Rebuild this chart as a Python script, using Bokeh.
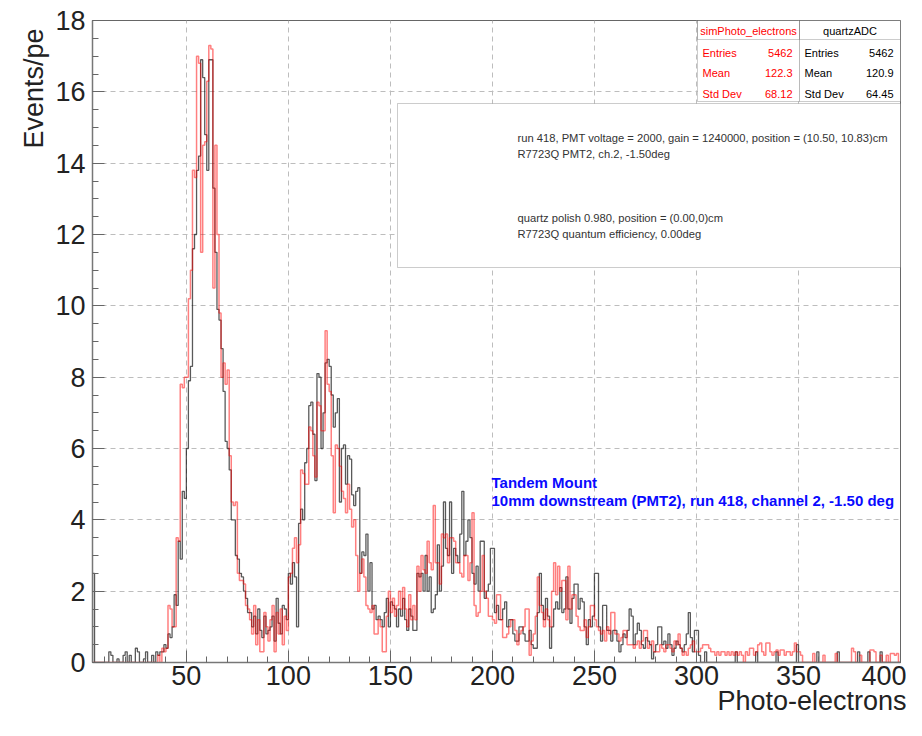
import numpy as np
from bokeh.plotting import figure
from bokeh.models import Range1d, FixedTicker, Label, BoxAnnotation, Title
from bokeh.embed import file_html
from bokeh.resources import INLINE

# ---------------- data (1 pe bins starting at 0) ----------------
bin_start = 0
bin_width = 1

quartz_adc = [
    0, 0, 0, 0, 2.5, 0, 0, 0, 0, 0,
    0, 0, 0.3, 0.2, 0, 0, 0.1, 0, 0, 0.2,
    0.3, 0, 0.2, 0, 0, 0.4, 0.3, 0, 0, 0.1,
    0.3, 0, 0, 0.2, 0, 0.3, 0.2, 0.3, 0.3, 0.5,
    0.4, 0.8, 0.7, 1.0, 1.9, 1.6, 3.4, 2.9, 4.8, 4.6,
    6.0, 7.9, 8.3, 11.6, 12.0, 13.8, 14.2, 16.9, 16.4, 14.8,
    13.8, 16.9, 16.9, 13.3, 11.5, 9.9, 9.6, 8.8, 7.6, 6.2,
    6.0, 5.4, 4.0, 4.0, 3.0, 2.9, 2.5, 2.4, 2.0, 1.8,
    1.4, 1.4, 1.0, 1.3, 0.8, 1.5, 0.9, 0.7, 1.3, 0.8,
    0.9, 1.0, 1.3, 0.6, 1.8, 1.1, 0.8, 1.6, 1.5, 1.2,
    2.5, 2.2, 2.8, 2.4, 1.0, 3.9, 4.3, 4.0, 5.6, 6.0,
    7.2, 7.3, 6.4, 5.1, 8.1, 8.0, 6.0, 7.0, 8.4, 8.5,
    8.3, 7.5, 6.6, 7.0, 7.4, 4.5, 6.0, 6.1, 5.0, 5.8,
    5.7, 4.7, 4.4, 4.8, 4.9, 2.5, 3.1, 3.0, 3.6, 2.0,
    2.8, 1.5, 1.6, 1.2, 1.3, 1.2, 1.0, 1.4, 1.8, 1.0,
    1.7, 1.6, 1.5, 1.0, 1.5, 1.3, 1.8, 1.2, 0.9, 1.5,
    1.3, 0.9, 0.9, 2.5, 2.4, 2.5, 2.0, 3.0, 2.0, 2.4,
    1.4, 1.5, 1.9, 3.3, 2.0, 2.7, 4.5, 3.2, 3.0, 4.5,
    2.5, 3.2, 3.0, 2.8, 3.6, 4.8, 3.0, 3.4, 4.0, 3.5,
    2.5, 2.2, 2.7, 2.0, 3.4, 3.4, 1.8, 2.0, 2.2, 3.2,
    3.2, 1.4, 1.6, 1.2, 1.2, 1.5, 1.7, 1.0, 1.2, 1.2,
    0.8, 0.6, 0.6, 1.0, 1.0, 0.8, 0.6, 0.6, 0.9, 0.5,
    0.4, 0.4, 1.4, 2.5, 1.6, 1.2, 1.8, 1.3, 0.4, 1.0,
    1.5, 1.7, 1.5, 2.1, 1.4, 1.5, 2.4, 1.5, 1.1, 1.8,
    2.2, 2.2, 1.5, 1.8, 1.7, 1.0, 0.5, 1.2, 1.0, 1.3,
    2.5, 2.5, 1.0, 0.6, 1.6, 1.6, 0.9, 0.9, 0.6, 0.9,
    0.9, 0.6, 0.3, 0.5, 0.8, 0.7, 0.9, 1.5, 1.3, 0.5,
    0.8, 1.1, 0.9, 0.5, 0.4, 0.7, 0.6, 0.5, 0.1, 0.3,
    0.5, 1.0, 1.0, 0.5, 0.6, 0.4, 0.8, 0.5, 0.2, 0.4,
    0.6, 0.5, 0.4, 0.3, 0.5, 0.8, 1.4, 0.7, 0.3, 0.9,
    0.9, 0.2, 0, 0, 0.3, 0, 0, 0, 0, 0,
    0, 0, 0, 0, 0, 0, 0, 0, 0, 0.3,
    0, 0, 0, 0, 0, 0, 0, 0, 0, 0.3,
    0, 0, 0, 0, 0, 0, 0, 0, 0, 0.3,
    0, 0, 0, 0, 0, 0, 0, 0, 0, 0.5,
    0, 0, 0, 0, 0, 0, 0, 0, 0, 0.3,
    0, 0, 0, 0, 0, 0, 0, 0, 0, 0.3,
    0, 0, 0, 0, 0, 0, 0, 0, 0, 0.3,
    0, 0, 0, 0, 0.3, 0, 0, 0, 0, 0,
    0.3, 0, 0, 0, 0, 0, 0, 0, 0, 0,
]

sim_photo_electrons = [
    0, 0, 0, 0, 0, 0, 0, 0, 0, 0,
    0, 0, 0, 0, 0, 0, 0, 0, 0, 0,
    0, 0, 0, 0, 0, 0, 0, 0, 0, 0,
    0, 0, 0, 0, 0, 0, 0.2, 0, 0.4, 0.3,
    0.4, 1.6, 1.5, 1.0, 1.0, 3.5, 3.4, 7.8, 7.7, 8.0,
    8.0, 10.2, 11.0, 13.8, 13.6, 17.0, 16.8, 11.5, 14.5, 14.6,
    16.3, 17.3, 17.2, 10.5, 14.5, 12.0, 9.8, 8.0, 8.4, 7.8,
    8.2, 5.8, 4.5, 4.4, 4.5, 2.5, 2.3, 2.3, 2.2, 1.6,
    1.5, 1.2, 0.8, 1.6, 0.5, 1.2, 0.3, 0.3, 1.4, 1.0,
    0.6, 1.2, 1.6, 0.3, 1.4, 0.8, 1.5, 0.5, 1.3, 0.9,
    2.4, 2.5, 3.2, 3.5, 2.8, 3.3, 5.4, 5.3, 5.0, 5.0,
    6.6, 6.5, 5.8, 5.2, 7.3, 7.2, 6.5, 6.5, 9.3, 7.8,
    7.6, 5.8, 4.2, 6.1, 6.0, 5.5, 4.8, 4.6, 4.2, 5.0,
    4.3, 3.8, 4.0, 3.0, 2.0, 2.5, 2.9, 2.4, 1.6, 1.5,
    1.4, 1.6, 0.8, 0.8, 1.2, 1.0, 0.3, 0.3, 1.3, 2.0,
    1.4, 1.8, 1.3, 1.6, 2.0, 1.5, 2.1, 1.5, 1.0, 1.9,
    1.2, 1.6, 1.2, 2.7, 2.0, 3.0, 2.6, 2.5, 3.4, 2.8,
    2.6, 4.4, 2.8, 2.8, 2.2, 3.6, 3.5, 3.6, 2.8, 3.5,
    3.5, 3.4, 2.8, 2.8, 2.5, 2.4, 3.0, 3.0, 2.3, 2.8,
    4.2, 1.6, 1.3, 1.4, 2.0, 3.0, 2.0, 1.8, 1.3, 1.3,
    1.2, 1.1, 1.9, 1.9, 1.2, 0.7, 0.7, 0.8, 1.0, 1.2,
    1.2, 0.9, 0.5, 0.8, 0.9, 1.0, 1.5, 1.5, 0.2, 0.6,
    0.8, 1.3, 2.4, 1.6, 1.4, 1.0, 1.5, 1.2, 1.0, 2.0,
    2.8, 1.9, 2.7, 2.0, 2.3, 2.3, 1.2, 2.7, 1.5, 1.9,
    1.9, 1.3, 1.0, 0.9, 0.9, 1.2, 0.7, 1.0, 1.6, 1.6,
    1.2, 1.0, 0.9, 0.8, 0.9, 0.6, 1.0, 0.8, 1.4, 1.4,
    0.8, 0.8, 0.6, 0.7, 0.9, 0.9, 0.5, 0.5, 0.5, 0.4,
    0.5, 0.6, 0.4, 0.6, 0.9, 0.9, 0.4, 0.5, 0.6, 0.3,
    0.3, 0.3, 0.5, 0.4, 0.3, 0.5, 0.5, 0.4, 0.3, 0.6,
    0.5, 0.8, 0.4, 0.2, 0.3, 0.2, 0.4, 0.5, 0.6, 0.3,
    0.3, 0.3, 0.4, 0.5, 0.5, 0.5, 0.4, 0.3, 0.3, 0.2,
    0.3, 0.2, 0.3, 0.3, 0.2, 0.3, 0.2, 0.3, 0.2, 0.3,
    0.2, 0.3, 0.2, 0, 0.3, 0.2, 0.4, 0.4, 0.2, 0.3,
    0.5, 0.55, 0.3, 0.2, 0.55, 0.55, 0.3, 0.2, 0.3, 0.35,
    0.2, 0.35, 0.35, 0.2, 0.3, 0.3, 0.2, 0.3, 0.55, 0.3,
    0.3, 0.2, 0, 0, 0, 0, 0, 0.25, 0, 0,
    0, 0, 0.2, 0, 0, 0, 0, 0, 0.25, 0,
    0, 0, 0, 0, 0, 0, 0.4, 0.3, 0, 0,
    0.2, 0, 0, 0, 0, 0.35, 0.35, 0.3, 0, 0,
    0.2, 0, 0, 0.2, 0, 0.25, 0.25, 0.2, 0.25, 0,
]

x_major_ticks = [50, 100, 150, 200, 250, 300, 350, 400]
x_minor_ticks = list(range(10, 401, 10))
y_major_ticks = [0, 2, 4, 6, 8, 10, 12, 14, 16, 18]
y_minor_ticks = [v * 0.5 for v in range(0, 37)]

stats_names = ["simPhoto_electrons", "quartzADC"]
stats_labels = ["Entries", "Mean", "Std Dev"]
stats_values = [["5462", "122.3", "68.12"], ["5462", "120.9", "64.45"]]
stats_colors = ["#ff0000", "#000000"]

legend_lines = [
    ["run 418, PMT voltage = 2000, gain = 1240000, position = (10.50, 10.83)cm",
     "R7723Q PMT2, ch.2, -1.50deg"],
    ["quartz polish 0.980, position = (0.00,0)cm",
     "R7723Q quantum efficiency, 0.00deg"],
]
legend_colors = ["#333333", "#ff5555"]

note_lines = ["Tandem Mount",
              "10mm downstream (PMT2), run 418, channel 2, -1.50 deg"]

x_title = "Photo-electrons"
y_title = "Events/pe"

# ---------------- layout (screen pixels) ----------------
FONT = "Liberation Sans"
AXIS_FS = "27px"
W, H = 906, 720
FR_L, FR_R, FR_T, FR_B = 92, 900, 20, 662
X0, X1, Y0, Y1 = 4, 400, 0, 18


def dx(px):
    return X0 + (px - FR_L) * (X1 - X0) / (FR_R - FR_L)


def dy(py):
    return Y0 + (FR_B - py) * (Y1 - Y0) / (FR_B - FR_T)


p = figure(width=W, height=H, output_backend="svg", toolbar_location=None,
           x_range=Range1d(X0, X1), y_range=Range1d(Y0, Y1),
           min_border_left=FR_L, min_border_right=W - FR_R,
           min_border_top=FR_T, min_border_bottom=H - FR_B)
p.background_fill_color = "white"
p.border_fill_color = "white"
p.outline_line_color = "#666666"
p.outline_line_width = 1

p.xaxis.ticker = FixedTicker(ticks=x_major_ticks, minor_ticks=x_minor_ticks)
p.yaxis.ticker = FixedTicker(ticks=y_major_ticks, minor_ticks=y_minor_ticks)
for ax in (p.xaxis, p.yaxis):
    ax.axis_line_color = "#777777"
    ax.axis_line_width = 1.5
    ax.major_tick_in = 12
    ax.major_tick_out = 0
    ax.minor_tick_in = 6
    ax.minor_tick_out = 0
    ax.major_tick_line_color = "#666666"
    ax.minor_tick_line_color = "#666666"
    ax.major_label_text_font = FONT
    ax.major_label_text_font_size = AXIS_FS
    ax.major_label_text_color = "#222222"
p.xaxis.major_label_standoff = 3
p.yaxis.major_label_standoff = 7

for g in (p.xgrid, p.ygrid):
    g.grid_line_color = "#bdbdbd"
    g.grid_line_dash = "5 4"
    g.grid_line_width = 1

# axis titles (ROOT style: at the far end of each axis)
p.add_layout(Title(text=x_title, align="right", text_font=FONT, text_font_size=AXIS_FS,
                   text_font_style="normal", text_color="#222222", standoff=-8, offset=-6),
             "below")
p.add_layout(Title(text=y_title, align="right", text_font=FONT, text_font_size=AXIS_FS,
                   text_font_style="normal", text_color="#222222", standoff=7, offset=8),
             "left")

# histograms
edges = bin_start + bin_width * np.arange(len(quartz_adc) + 1)
yb = np.append(quartz_adc, quartz_adc[-1])
yr = np.append(sim_photo_electrons, sim_photo_electrons[-1])
p.step(x=edges, y=yb, mode="after", line_color="#000000", line_alpha=0.65, line_width=1.3)
p.step(x=edges, y=yr, mode="after", line_color="#ff0000", line_alpha=0.5, line_width=1.5)

# note text
for j, t in enumerate(note_lines):
    p.add_layout(Label(x=dx(491), y=dy(482 + 18 * j), text=t, text_font=FONT,
                       text_font_size="15px", text_font_style="bold", text_color="#0a0aff",
                       text_baseline="middle", text_align="left"))

# legend box
p.add_layout(BoxAnnotation(left=dx(397), right=dx(900), top=dy(103), bottom=dy(267),
                           fill_color="white", fill_alpha=1.0, line_color="#555555",
                           line_width=1, level="overlay"))
leg_y = [145, 225]
for i, lines in enumerate(legend_lines):
    p.segment(x0=[dx(413)], y0=[dy(leg_y[i])], x1=[dx(502)], y1=[dy(leg_y[i])],
              line_color=legend_colors[i], line_width=1.2, level="overlay")
    for j, t in enumerate(lines):
        p.add_layout(Label(x=dx(517), y=dy(leg_y[i] - 8 + 16 * j), text=t, text_font=FONT,
                           text_font_size="11.2px", text_color="#333333",
                           text_baseline="middle", text_align="left", level="overlay"))

# stats boxes
box_x = [(697, 799), (799, 900)]
for k in range(2):
    l, r = box_x[k]
    p.add_layout(BoxAnnotation(left=dx(l), right=dx(r), top=dy(20), bottom=dy(101),
                               fill_color="white", fill_alpha=1.0, line_color="#555555",
                               line_width=1, level="overlay"))
    p.add_layout(BoxAnnotation(left=dx(l), right=dx(r), top=dy(20), bottom=dy(39),
                               fill_alpha=0, line_color="#555555",
                               line_width=1, level="overlay"))
    p.add_layout(Label(x=dx((l + r) / 2), y=dy(30), text=stats_names[k], text_font=FONT,
                       text_font_size="11px", text_color=stats_colors[k],
                       text_baseline="middle", text_align="center", level="overlay"))
    for j, lab in enumerate(stats_labels):
        yy = dy(52 + 20.5 * j)
        p.add_layout(Label(x=dx(l + 5), y=yy, text=lab, text_font=FONT,
                           text_font_size="11px", text_color=stats_colors[k],
                           text_baseline="middle", text_align="left", level="overlay"))
        p.add_layout(Label(x=dx(r - 7), y=yy, text=stats_values[k][j], text_font=FONT,
                           text_font_size="11px", text_color=stats_colors[k],
                           text_baseline="middle", text_align="right", level="overlay"))

open("out.html", "w").write(file_html(p, INLINE))
